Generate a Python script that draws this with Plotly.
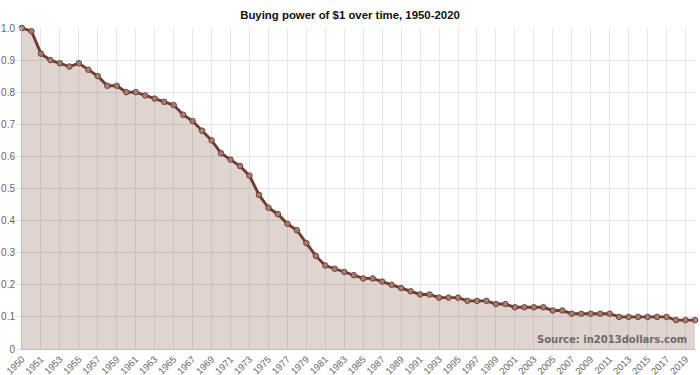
import plotly.graph_objects as go

# Category labels (72 points; first two both belong to 1950 in the source chart)
labels = ["1950", "1950"] + [str(y) for y in range(1951, 2021)]

# Buying power of $1
values = [
    1.00, 0.99, 0.92, 0.90, 0.89, 0.88, 0.89, 0.87, 0.85, 0.82,
    0.82, 0.80, 0.80, 0.79, 0.78, 0.77, 0.76, 0.73, 0.71, 0.68,
    0.65, 0.61, 0.59, 0.57, 0.54, 0.48, 0.44, 0.42, 0.39, 0.37,
    0.33, 0.29, 0.26, 0.25, 0.24, 0.23, 0.22, 0.22, 0.21, 0.20,
    0.19, 0.18, 0.17, 0.17, 0.16, 0.16, 0.16, 0.15, 0.15, 0.15,
    0.14, 0.14, 0.13, 0.13, 0.13, 0.13, 0.12, 0.12, 0.11, 0.11,
    0.11, 0.11, 0.11, 0.10, 0.10, 0.10, 0.10, 0.10, 0.10, 0.09,
    0.09, 0.09,
]

x_idx = list(range(len(values)))
tick_idx = x_idx[::2]
tick_text = [labels[i] for i in tick_idx]

y_ticks = [0, 0.1, 0.2, 0.3, 0.4, 0.5, 0.6, 0.7, 0.8, 0.9, 1.0]
y_text = ["0", "0.1", "0.2", "0.3", "0.4", "0.5", "0.6", "0.7", "0.8", "0.9", "1.0"]

line_col = "rgb(110,62,50)"
fill_col = "rgba(120,70,58,0.23)"

fig = go.Figure()
fig.add_trace(go.Scatter(
    x=x_idx, y=values, mode="lines+markers",
    line=dict(color=line_col, width=2.9),
    marker=dict(size=5.5, color="rgba(170,130,120,0.9)", line=dict(color=line_col, width=1)),
    fill="tozeroy", fillcolor=fill_col,
    cliponaxis=False, hoverinfo="x+y", showlegend=False,
))

fig.update_layout(
    width=700, height=375,
    margin=dict(l=22, r=5, t=28, b=26, autoexpand=False),
    paper_bgcolor="white", plot_bgcolor="white",
    title=dict(text="<b>Buying power of $1 over time, 1950-2020</b>",
               x=0.5, xanchor="center", y=1 - 15 / 375, yanchor="middle",
               font=dict(family="Liberation Sans, Arial, sans-serif", size=11.4, color="#111")),
    font=dict(family="Liberation Sans, Arial, sans-serif", size=10, color="#666"),
    annotations=[dict(
        text="<b>Source: in2013dollars.com</b>", xref="paper", yref="paper",
        x=0.9915, y=0.029, xanchor="right", yanchor="middle", showarrow=False,
        font=dict(family="DejaVu Sans, sans-serif", size=10, color="#6b6b6b"),
    )],
)

fig.update_xaxes(
    range=[0, len(values) - 1], tickmode="array", tickvals=tick_idx, ticktext=tick_text,
    tickangle=-45, showgrid=True, gridcolor="#e6e6e6", gridwidth=1,
    showline=True, linecolor="#bdbdbd", linewidth=1,
    ticks="", ticklabelstandoff=0,
    tickfont=dict(size=9.5, color="#666"), zeroline=False, automargin=False,
)
fig.update_yaxes(
    range=[0, 1], tickmode="array", tickvals=y_ticks, ticktext=y_text,
    showgrid=True, gridcolor="#e6e6e6", gridwidth=1,
    showline=True, linecolor="#bdbdbd", linewidth=1,
    ticks="outside", ticklen=4, tickcolor="#e6e6e6",
    tickfont=dict(size=10, color="#666"), zeroline=False, automargin=False,
)

fig.write_html("out.html", config={"displayModeBar": False},
               post_script="document.body.style.margin='0';")
